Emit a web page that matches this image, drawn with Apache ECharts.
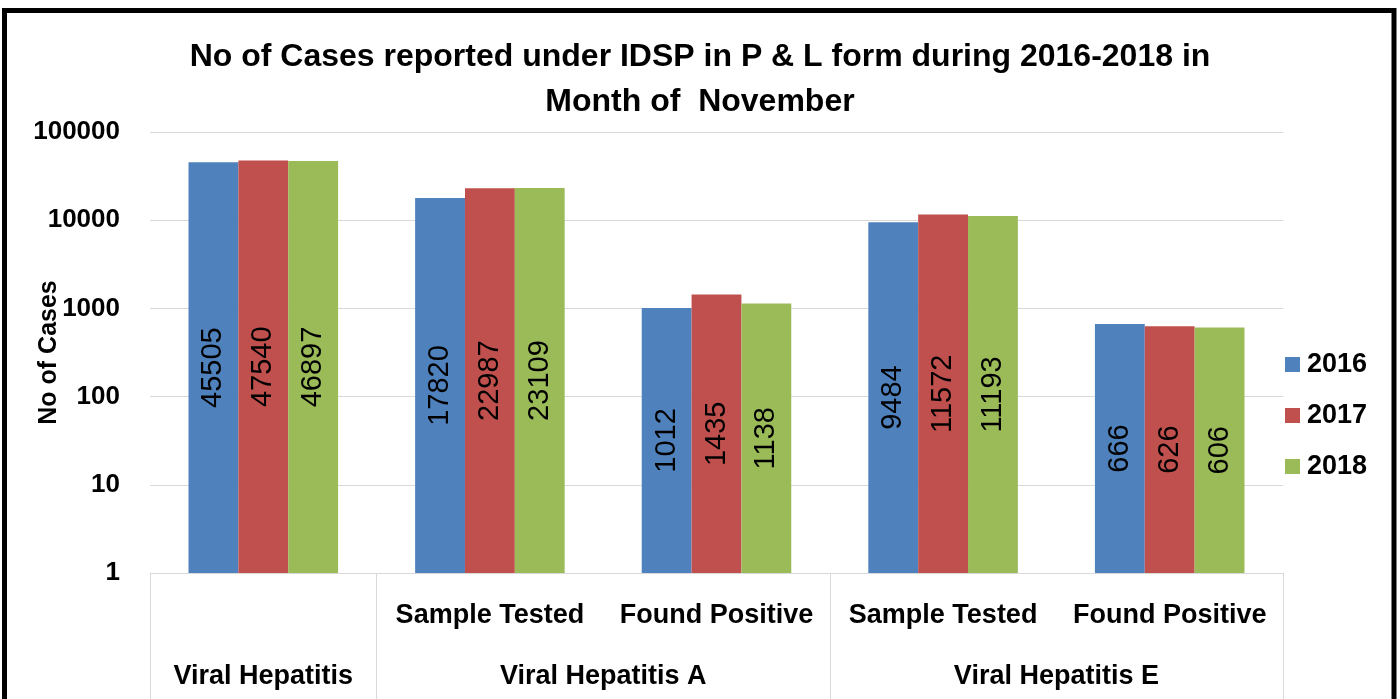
<!DOCTYPE html>
<html>
<head>
<meta charset="utf-8">
<script src="https://cdn.jsdelivr.net/npm/echarts@6/dist/echarts.min.js"></script>
<style>
html,body{margin:0;padding:0;background:#fff;}
#chart{width:1400px;height:699px;}
</style>
</head>
<body>
<div id="chart"></div>
<script>
// ---- data ----
var subCategories = ['', 'Sample Tested', 'Found Positive', 'Sample Tested', 'Found Positive'];
var groupNames = ['Viral Hepatitis', 'Viral Hepatitis A', 'Viral Hepatitis E'];
var groupSpans = [1, 2, 2];
var seriesNames = ['2016', '2017', '2018'];
var values2016 = [45505, 17820, 1012, 9484, 666];
var values2017 = [47540, 22987, 1435, 11572, 626];
var values2018 = [46897, 23109, 1138, 11193, 606];
var colors = ['#4F81BD', '#C0504D', '#9BBB59'];
var titleText = 'No of Cases reported under IDSP in P & L form during 2016-2018 in\nMonth of  November';
var yAxisName = 'No of Cases';

// group label positions & separators derived from spans
var groupCenters = [], groupBounds = [0], acc = 0;
groupSpans.forEach(function (s) { groupCenters.push(acc + s / 2); acc += s; groupBounds.push(acc); });

var FONT = '"Liberation Sans", Arial, sans-serif';
var allValues = [values2016, values2017, values2018];

var chart = echarts.init(document.getElementById('chart'));
chart.setOption({
  backgroundColor: '#ffffff',
  animation: false,
  color: colors,
  title: {
    text: titleText,
    left: 'center',
    top: 30,
    textStyle: { fontFamily: FONT, fontSize: 32, fontWeight: 'bold', color: '#000', lineHeight: 45 }
  },
  legend: {
    orient: 'vertical',
    left: 1280,
    top: 346,
    icon: 'rect',
    itemWidth: 15,
    itemHeight: 15,
    itemGap: 24,
    data: seriesNames,
    textStyle: { fontFamily: FONT, fontSize: 27, fontWeight: 'bold', color: '#000', padding: [0, 0, 0, 2] }
  },
  grid: { left: 150, right: 117, top: 132, bottom: 126, containLabel: false, outerBoundsMode: 'none' },
  xAxis: [
    {
      type: 'category',
      data: subCategories,
      position: 'bottom',
      axisLine: { show: true, lineStyle: { color: '#d9d9d9', width: 1 } },
      axisTick: { show: false },
      axisLabel: { margin: 29, fontFamily: FONT, fontSize: 27, fontWeight: 'bold', color: '#000', interval: 0 },
      splitLine: { show: false }
    },
    {
      type: 'value',
      min: 0,
      max: subCategories.length,
      position: 'bottom',
      axisLine: { show: false },
      axisTick: { show: true, inside: false, length: 130, customValues: groupBounds, lineStyle: { color: '#d9d9d9', width: 1 } },
      axisLabel: {
        show: true,
        customValues: groupCenters,
        margin: 90,
        fontFamily: FONT, fontSize: 27, fontWeight: 'bold', color: '#000',
        formatter: function (v) {
          for (var i = 0; i < groupCenters.length; i++) { if (Math.abs(groupCenters[i] - v) < 1e-6) return groupNames[i]; }
          return '';
        }
      },
      splitLine: { show: false }
    }
  ],
  yAxis: {
    type: 'log',
    logBase: 10,
    min: 1,
    max: 100000,
    name: yAxisName,
    nameLocation: 'middle',
    nameGap: 88,
    nameRotate: 90,
    nameMoveOverlap: false,
    nameTextStyle: { fontFamily: FONT, fontSize: 25, fontWeight: 'bold', color: '#000' },
    axisLine: { show: false },
    axisTick: { show: false },
    axisLabel: {
      margin: 30, fontFamily: FONT, fontSize: 26, fontWeight: 'bold', color: '#000',
      formatter: function (v) { return String(Math.round(v)); }
    },
    splitLine: { show: true, lineStyle: { color: '#d9d9d9', width: 1 } }
  },
  series: seriesNames.map(function (name, i) {
    return {
      name: name,
      type: 'bar',
      xAxisIndex: 0,
      data: allValues[i],
      barGap: '0%',
      barCategoryGap: '34%',
      label: {
        show: true,
        position: 'inside',
        rotate: 90,
        fontFamily: FONT,
        fontSize: 29,
        color: '#000'
      }
    };
  }),
  graphic: [{
    type: 'rect',
    silent: true,
    z: 100,
    shape: { x: 4.5, y: 10.5, width: 1389.5, height: 760 },
    style: { fill: 'none', stroke: '#000', lineWidth: 5 }
  }]
});
</script>
</body>
</html>
